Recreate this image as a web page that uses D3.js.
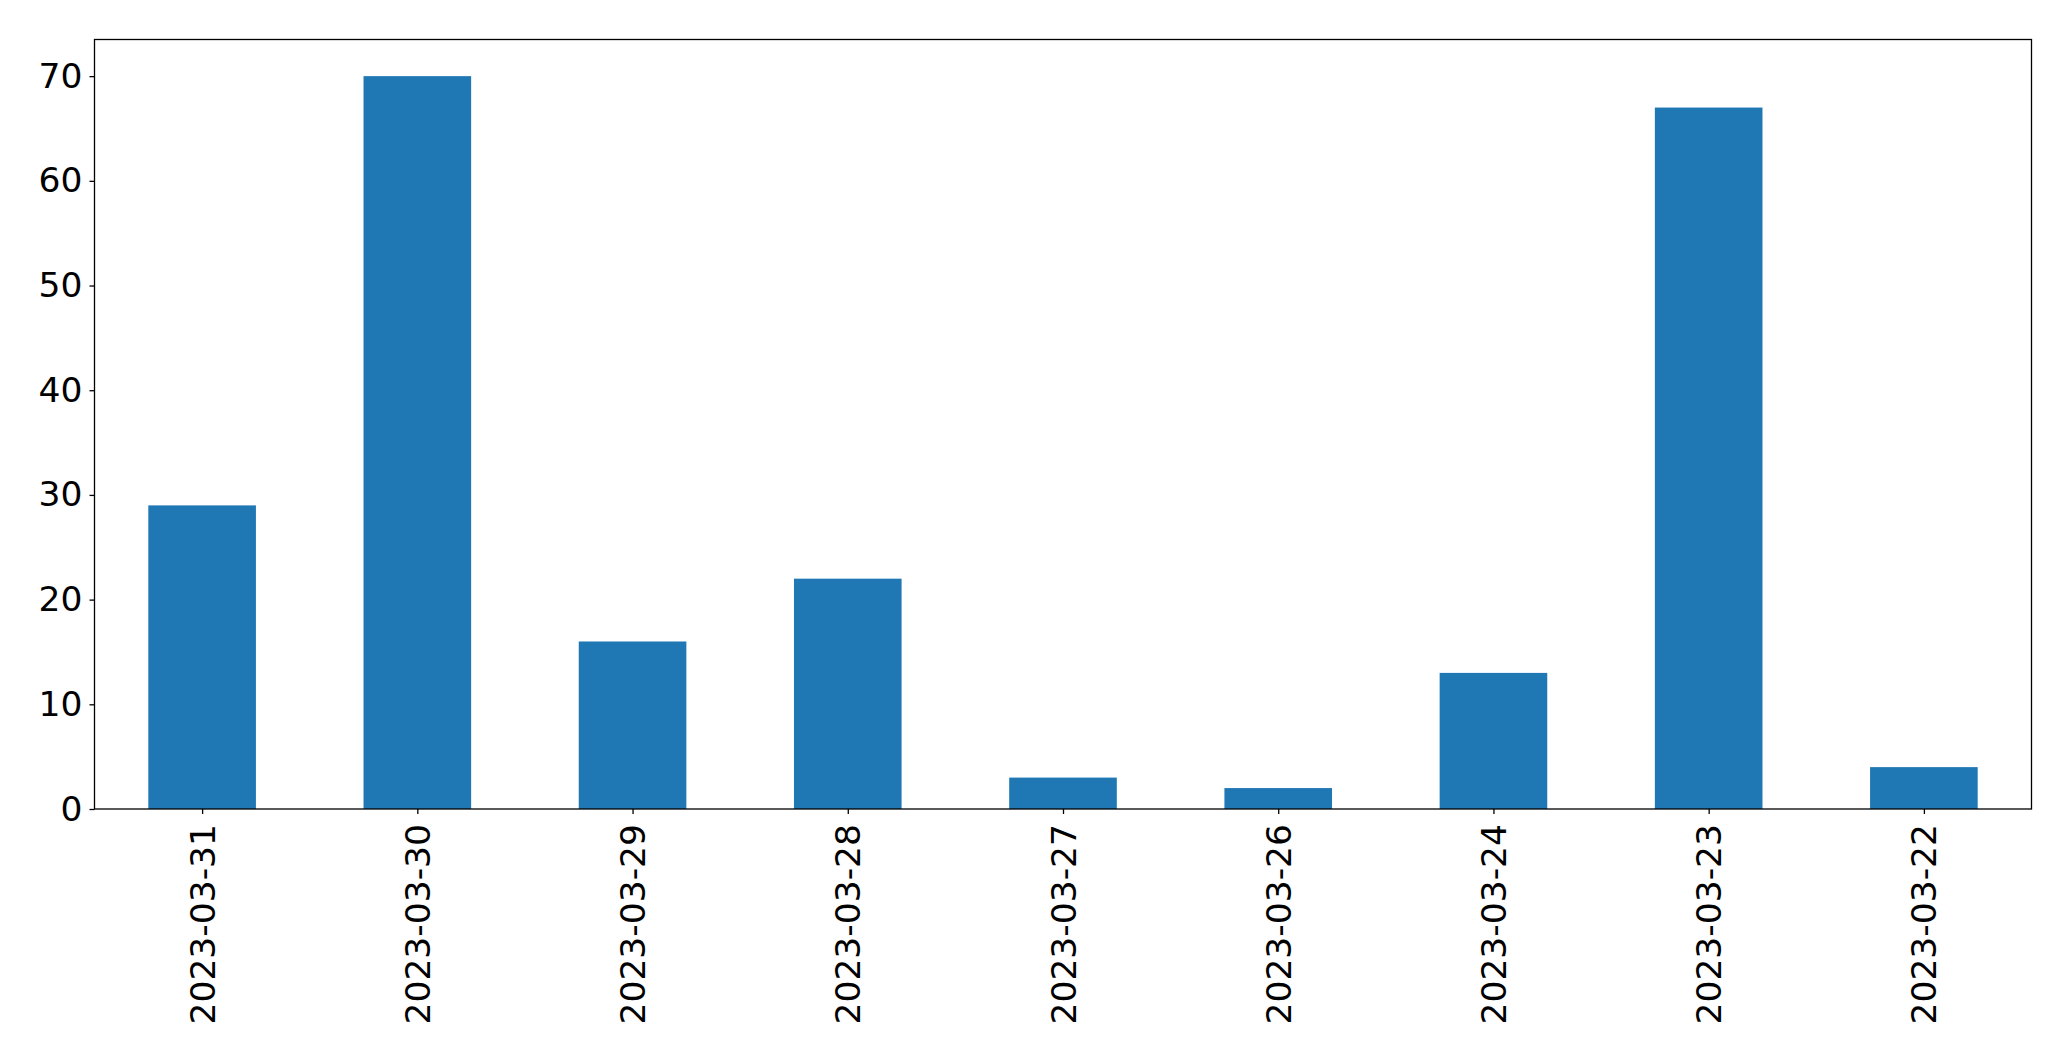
<!DOCTYPE html>
<html><head><meta charset="utf-8">
<script src="https://cdn.jsdelivr.net/npm/d3@7"></script>
<style>body{margin:0;background:#fff}svg{display:block}text{font-family:"DejaVu Sans",sans-serif}</style>
</head><body>
<script>
const categories = ["2023-03-31","2023-03-30","2023-03-29","2023-03-28","2023-03-27","2023-03-26","2023-03-24","2023-03-23","2023-03-22"];
const values = [29,70,16,22,3,2,13,67,4];
const yTicks = [0,10,20,30,40,50,60,70];

const W=2071,H=1061;
const m={left:94.5,top:39.5,right:2031.5,bottom:809};
const svg=d3.select("body").append("svg").attr("width",W).attr("height",H);
const x=d3.scaleLinear().domain([-0.5,categories.length-0.5]).range([m.left,m.right]);
const y=d3.scaleLinear().domain([0,73.5]).range([m.bottom,m.top]);
const fs=34.5;

svg.selectAll("rect.bar").data(values).enter().append("rect").attr("class","bar")
 .attr("x",(d,i)=>x(i-0.25)).attr("width",(d,i)=>x(i+0.25)-x(i-0.25))
 .attr("y",d=>y(d)).attr("height",d=>y(0)-y(d)).attr("fill","#1f77b4");

const ya=d3.axisLeft(y).tickValues(yTicks).tickSize(5).tickPadding(7).tickFormat(d3.format("d"));
const gy=svg.append("g").attr("transform",`translate(${m.left},0)`).call(ya);
gy.select(".domain").remove();
gy.selectAll("line").attr("stroke","#000").attr("stroke-width",1.3);
gy.selectAll("text").attr("font-size",fs).attr("fill","#000").attr("font-family","DejaVu Sans");

const xa=d3.axisBottom(x).tickValues(d3.range(categories.length)).tickSize(5).tickFormat(i=>categories[i]);
const gx=svg.append("g").attr("transform",`translate(0,${m.bottom})`).call(xa);
gx.select(".domain").remove();
gx.selectAll("line").attr("stroke","#000").attr("stroke-width",1.3);
gx.selectAll("text").attr("font-size",fs).attr("fill","#000").attr("font-family","DejaVu Sans")
 .attr("transform","rotate(-90)").attr("text-anchor","end").attr("x",-15).attr("y",0).attr("dy","0.35em");

svg.append("rect").attr("x",m.left).attr("y",m.top).attr("width",m.right-m.left).attr("height",m.bottom-m.top)
 .attr("fill","none").attr("stroke","#000").attr("stroke-width",1.3);
</script>
</body></html>
